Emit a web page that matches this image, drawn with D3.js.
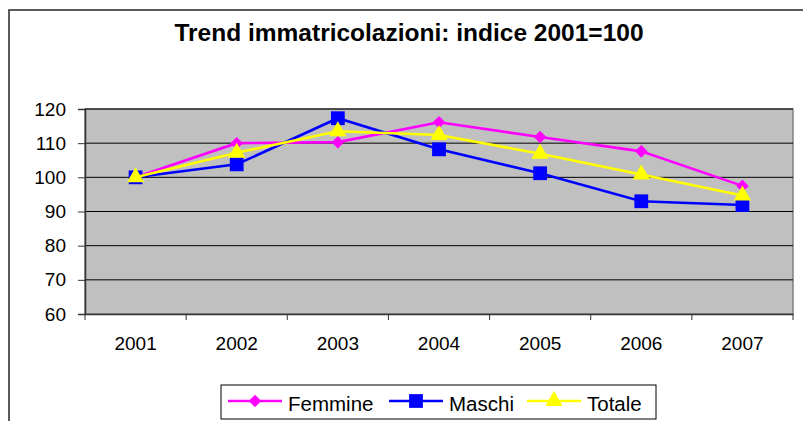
<!DOCTYPE html>
<html><head><meta charset="utf-8">
<script src="https://cdn.jsdelivr.net/npm/d3@7"></script>
<style>body{margin:0;background:#fff;} svg{display:block;font-family:Arial,"Liberation Sans",sans-serif;}</style>
</head><body>
<svg id="c" width="803" height="421"></svg>
<script>
const years = ["2001","2002","2003","2004","2005","2006","2007"];
const femmine = [100, 110.0, 110.3, 116.1, 111.8, 107.6, 97.5];
const maschi  = [100, 103.8, 117.3, 108.2, 101.2, 93.0, 91.9];
const totale  = [100, 107.2, 113.5, 112.4, 106.9, 100.8, 94.7];
const yTicks = [60,70,80,90,100,110,120];
const title = "Trend immatricolazioni: indice 2001=100";

const series = [
  {name:"Femmine", values:femmine, color:"#FF00FF", shape:"diamond"},
  {name:"Maschi", values:maschi, color:"#0000FF", shape:"square"},
  {name:"Totale", values:totale, color:"#FFFF00", shape:"triangle"}
];

const FONT = "Arial,'Liberation Sans',sans-serif";
const svg = d3.select("#c");
// outer border
svg.append("rect").attr("x",9).attr("y",10).attr("width",820).attr("height",440)
  .attr("fill","none").attr("stroke","#333").attr("stroke-width",1.6);

svg.append("text").attr("x",409).attr("y",41).attr("text-anchor","middle")
  .attr("font-size",24.5).attr("font-weight","bold").text(title);

const L=85, R=793, T=109, B=314;
const x = d3.scaleBand().domain(years).range([L,R]);
const y = d3.scaleLinear().domain([60,120]).range([B,T]);

svg.append("rect").attr("x",L).attr("y",T).attr("width",R-L).attr("height",B-T)
  .attr("fill","#C0C0C0").attr("stroke","#808080").attr("stroke-width",1.5);

// gridlines
svg.append("g").selectAll("line").data(yTicks.filter(v=>v>60)).join("line")
  .attr("x1",L).attr("x2",R).attr("y1",d=>y(d)).attr("y2",d=>y(d))
  .attr("stroke","#000").attr("stroke-width",1);

// y axis
const ya = svg.append("g").attr("transform",`translate(${L},0)`)
  .call(d3.axisLeft(y).tickValues(yTicks).tickSize(7).tickPadding(12));
ya.select(".domain").attr("stroke","#333").attr("stroke-width",1.5);
ya.selectAll(".tick line").attr("stroke","#333");
ya.selectAll("text").attr("font-size",19).attr("fill","#000").attr("font-family",FONT);

// x axis
const xa = svg.append("g").attr("transform",`translate(0,${B})`)
  .call(d3.axisBottom(x).tickSize(0).tickPadding(23));
xa.select(".domain").attr("stroke","#333").attr("stroke-width",1.5);
xa.selectAll("text").attr("font-size",19).attr("fill","#000").attr("font-family",FONT);
// boundary ticks
svg.append("g").selectAll("line").data(d3.range(years.length+1)).join("line")
  .attr("x1",i=>L+i*x.step()).attr("x2",i=>L+i*x.step()).attr("y1",B).attr("y2",B+6)
  .attr("stroke","#333").attr("stroke-width",1);

const sym = {
  diamond: d3.symbol().type(d3.symbolDiamond2).size(100),
  square: d3.symbol().type(d3.symbolSquare).size(190),
  triangle: d3.symbol().type(d3.symbolTriangle).size(130)
};
const line = d3.line().x((d,i)=>x(years[i])+x.bandwidth()/2).y(d=>y(d));

series.forEach(s=>{
  svg.append("path").datum(s.values).attr("d",line).attr("fill","none")
    .attr("stroke",s.color).attr("stroke-width",2.6);
  svg.append("g").selectAll("path").data(s.values).join("path")
    .attr("transform",(d,i)=>`translate(${x(years[i])+x.bandwidth()/2},${y(d)})`)
    .attr("d",sym[s.shape]).attr("fill",s.color);
});

// legend
svg.append("rect").attr("x",221).attr("y",385).attr("width",435).attr("height",34)
  .attr("fill","#fff").attr("stroke","#000").attr("stroke-width",1);
const legX = [228, 389, 527];
series.forEach((s,i)=>{
  const g = svg.append("g").attr("transform",`translate(${legX[i]},401)`);
  g.append("line").attr("x1",0).attr("x2",54).attr("stroke",s.color).attr("stroke-width",2.6);
  g.append("path").attr("transform","translate(27,0)").attr("d",sym[s.shape]).attr("fill",s.color);
  g.append("text").attr("x",60).attr("y",10).attr("font-size",20.5).text(s.name);
});
</script>
</body></html>
